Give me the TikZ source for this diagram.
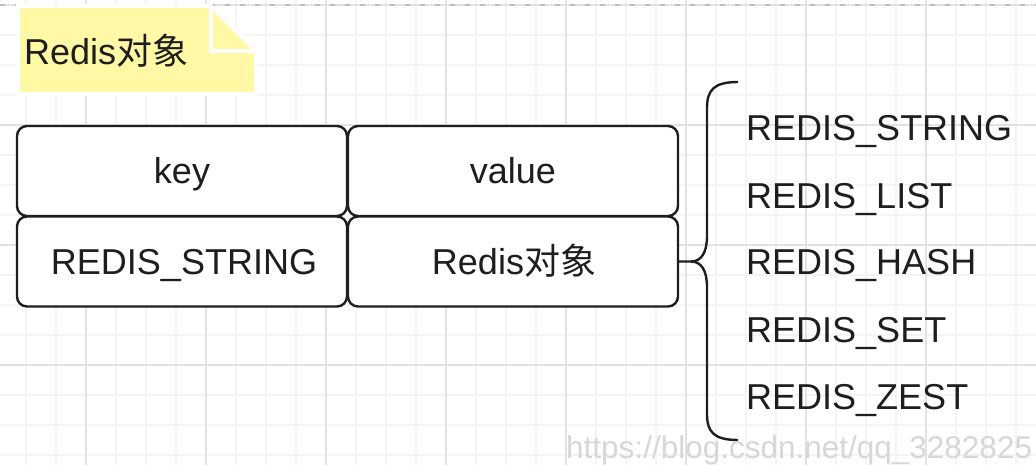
\documentclass[tikz,border=0pt]{standalone}
\usepackage{fontspec}
\setmainfont{Liberation Sans}
\newfontfamily\cjk{Noto Sans CJK SC}
\definecolor{minorg}{RGB}{244,244,244}
\definecolor{majorg}{RGB}{226,226,226}
\definecolor{notey}{RGB}{255,249,166}
\definecolor{ink}{RGB}{30,30,30}
\definecolor{wmark}{RGB}{215,215,215}
\begin{document}
\begin{tikzpicture}[x=1pt,y=-1pt,
  minorgrid/.style={draw=minorg,line width=1.2pt},
  majorgrid/.style={draw=majorg,line width=1.6pt},
  cell/.style={draw=ink,line width=2.4pt,rounded corners=10pt,fill=white,
    minimum width=330pt,minimum height=90pt,inner sep=0pt,
    font=\fontsize{36}{43}\selectfont,text=ink,
    text height=25.6pt,text depth=0pt},
  lbl/.style={anchor=west,inner sep=0pt,font=\fontsize{36}{43}\selectfont,
    text=ink,text height=25.6pt,text depth=0pt},
  bracepath/.style={draw=ink,line width=2.4pt,line join=round}]
\useasboundingbox (0,0) rectangle (1036,465);
\fill[white] (0,0) rectangle (1036,465);
% grid
\foreach \x in {26,56,...,1016} \draw[minorgrid] (\x,0) -- (\x,465);
\foreach \y in {35,65,...,455} \draw[minorgrid] (0,\y) -- (1036,\y);
\foreach \x in {86,206,...,926} \draw[majorgrid] (\x,0) -- (\x,465);
\foreach \y in {5,125,245,365} \draw[majorgrid] (0,\y) -- (1036,\y);
\draw[draw=gray!50,line width=1.2pt,dash pattern=on 5pt off 10pt] (0,5) -- (1036,5);
% note
\filldraw[fill=notey,draw=white,line width=4pt,line join=miter]
  (18,6) -- (211,6) -- (256,51) -- (256,94) -- (18,94) -- cycle;
\draw[white,line width=4pt] (211,6) -- (211,51) -- (256,51);
\node[lbl] (notetxt) at (24,51.5) {Redis{\cjk 对象}};
% table
\node[cell] (key) at (182,171) {key};
\node[cell] (val) at (513,171) {value};
\node[cell] (ktype) at (182,261.5) {\hspace{4pt}REDIS\_STRING};
\node[cell] (vobj) at (513,261.5) {\hspace{2pt}Redis{\cjk 对象}};
% brace
\coordinate (tip) at (691,261.5);
\coordinate (btop) at (738,82);
\coordinate (bbot) at (738,440);
\draw[bracepath] (vobj.east) -- (tip)
  .. controls (701,261.5) and (707,253) .. (707,236) -- (707,108)
  .. controls (707,90) and (714,82) .. (btop);
\draw[bracepath] (tip)
  .. controls (701,261.5) and (707,270) .. (707,287) -- (707,414)
  .. controls (707,432) and (714,440) .. (bbot);
% type labels
\node[lbl] (t1) at (746,128) {REDIS\_STRING};
\node[lbl] (t2) at (746,195.5) {REDIS\_LIST};
\node[lbl] (t3) at (746,262) {REDIS\_HASH};
\node[lbl] (t4) at (746,330) {REDIS\_SET};
\node[lbl] (t5) at (746,397) {REDIS\_ZEST};
% watermark
\node[anchor=west,inner sep=0pt,font=\fontsize{31.5}{38}\selectfont,text=wmark,
  text height=22pt,text depth=0pt] (wm) at (566,447.5) {https://blog.csdn.net/qq\_3282825};
\end{tikzpicture}
\end{document}
